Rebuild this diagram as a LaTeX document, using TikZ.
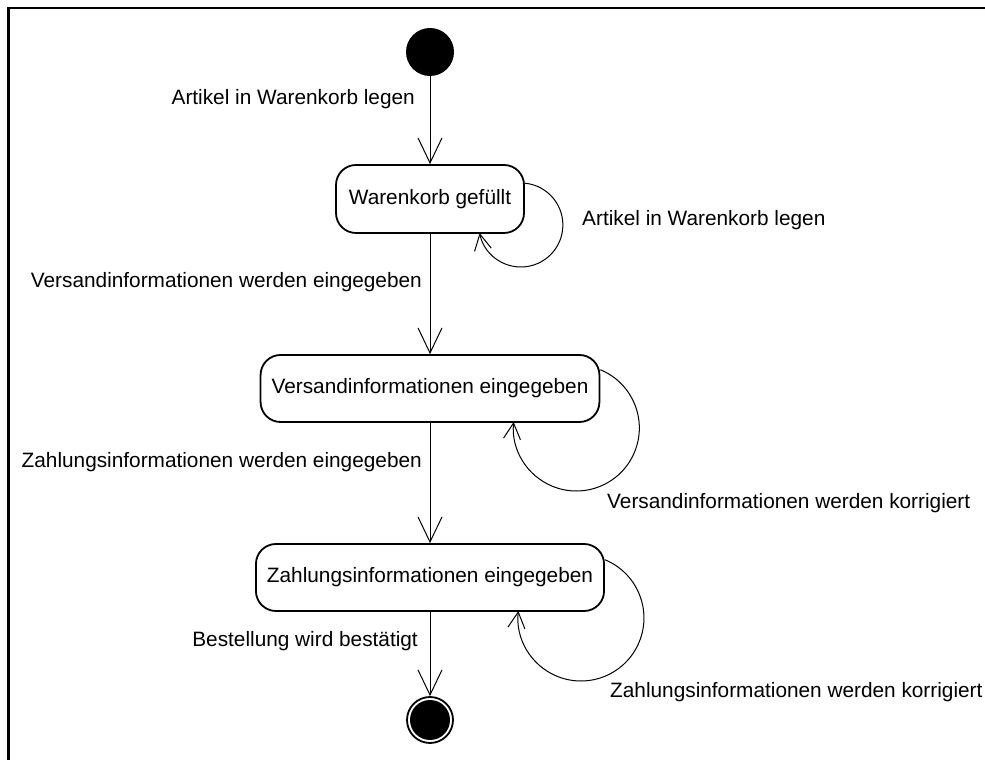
\documentclass[tikz,border=0pt]{standalone}
\usepackage{fontspec}
\setmainfont{Liberation Sans}
\usetikzlibrary{arrows.meta}
\begin{document}
\begin{tikzpicture}[x=1pt,y=1pt,
  font=\fontsize{20.8}{25}\selectfont,
  statebox/.style={draw, line width=1.8pt, rounded corners=20pt,
    minimum height=67pt, inner xsep=11pt, inner ysep=0pt, align=center},
  trans/.style={line width=1pt,
    -{Straight Barb[length=25pt,width=24pt,line width=1pt]}},
  selftrans/.style={line width=1pt,
    -{Straight Barb[length=16pt,width=17pt,line width=1pt]}},
  lbl/.style={inner sep=0pt},
]
\useasboundingbox (0,0) rectangle (985,760);
% outer frame (left and top edges)
\draw[line width=2.2pt] (8.5,0) -- (8.5,752) -- (990,752);

% states
\node[circle, fill=black, minimum size=48pt, inner sep=0pt] (init) at (430,708) {};
\node[statebox, minimum width=188pt, minimum height=68pt] (s1) at (430,561) {Warenkorb gefüllt};
\node[statebox] (s2) at (430,371.5) {Versandinformationen eingegeben};
\node[statebox] (s3) at (430,182.5) {Zahlungsinformationen eingegeben};
\node[circle, draw, line width=1.8pt, minimum size=46pt, inner sep=0pt,
  path picture={\fill (path picture bounding box.center) circle (20pt);}] (final) at (430,40) {};

% transitions
\draw[trans] (init) -- (s1);
\draw[trans] (s1) -- (s2);
\draw[trans] (s2) -- (s3);
\draw[trans] (s3) -- (final);

% self transitions
\draw[selftrans] ([yshift=15.8pt]s1.east) arc[start angle=84.5, end angle=-169, radius=42pt];
\draw[selftrans] ([yshift=18.75pt]s2.east) arc[start angle=67.6, end angle=-185.5, radius=63pt];
\draw[selftrans] ([yshift=17.75pt]s3.east) arc[start angle=67.6, end angle=-186.4, radius=63pt];

% transition labels
\node[lbl, anchor=base east] (l1) at (415,655) {Artikel in Warenkorb legen};
\node[lbl, anchor=base west] (l2) at (582,534) {Artikel in Warenkorb legen};
\node[lbl, anchor=base east] (l3) at (422,472) {Versandinformationen werden eingegeben};
\node[lbl, anchor=base west] (l4) at (607,251) {Versandinformationen werden korrigiert};
\node[lbl, anchor=base east] (l5) at (422,292) {Zahlungsinformationen werden eingegeben};
\node[lbl, anchor=base east] (l6) at (418,113) {Bestellung wird bestätigt};
\node[lbl, anchor=base west] (l7) at (610,62) {Zahlungsinformationen werden korrigiert};
\end{tikzpicture}
\end{document}
